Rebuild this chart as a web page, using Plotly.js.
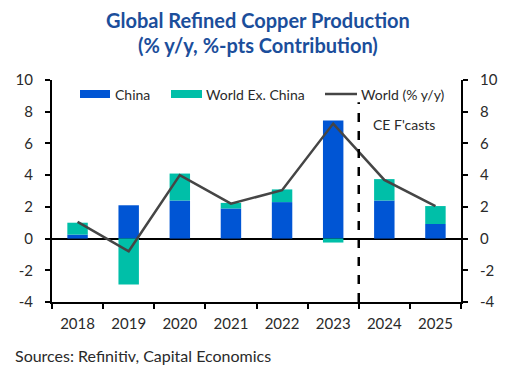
<!DOCTYPE html>
<html>
<head>
<meta charset="utf-8">
<script src="https://cdn.plot.ly/plotly-3.0.1.min.js"></script>
<style>
html,body{margin:0;padding:0;background:#fff;}
#chart{width:517px;height:372px;}
</style>
</head>
<body>
<div id="chart"></div>
<script>
const years = ["2018","2019","2020","2021","2022","2023","2024","2025"];
const china = [0.25, 2.1, 2.4, 1.9, 2.3, 7.45, 2.4, 0.92];
const worldExChina = [0.75, -2.9, 1.7, 0.35, 0.8, -0.25, 1.35, 1.13];
const worldYoY = [1.05, -0.8, 4.0, 2.2, 3.05, 7.25, 3.7, 2.05];
const yTicks = [-4, -2, 0, 2, 4, 6, 8, 10];
const yTickText = ["-4", "-2", "0", "2", "4", "6", "8", "10"];

const blue = "#0055d4";
const teal = "#00bfa8";
const lineCol = "#454545";
const font = "Lato, 'Open Sans', sans-serif";

const traces = [
  {type:"bar", x:years, y:china, name:"China", marker:{color:blue}, width:0.4, hoverinfo:"y"},
  {type:"bar", x:years, y:worldExChina, name:"World Ex. China", marker:{color:teal}, width:0.4, hoverinfo:"y"},
  {type:"scatter", mode:"lines", x:years, y:worldYoY, name:"World (% y/y)", line:{color:lineCol, width:2.5}},
  {type:"scatter", mode:"lines", x:years, y:worldYoY, yaxis:"y2", showlegend:false, hoverinfo:"skip", line:{width:0}, opacity:0}
];

function px2x(p){return (p-52)/409;}
function py2y(p){return (302-p)/222;}

const titleFont = {family:font, size:20, color:"#1b4e9b"};
const tickFont = {family:font, size:15, color:"#2a2a2a"};

const layout = {
  width:517, height:372,
  margin:{l:52, r:56, t:80, b:70},
  paper_bgcolor:"#fff", plot_bgcolor:"#fff",
  barmode:"relative",
  showlegend:false,
  font:{family:font, size:14, color:"#333"},
  xaxis:{type:"category", tickson:"boundaries", ticks:"outside", ticklen:5, tickwidth:2, tickcolor:"#000",
         showline:true, linecolor:"#000", linewidth:2, showgrid:false, zeroline:false,
         tickfont:tickFont, ticklabelstandoff:7, fixedrange:true},
  yaxis:{range:[-4,10], tickmode:"array", tickvals:yTicks, ticktext:yTickText, ticks:"outside", ticklen:5, tickwidth:2, tickcolor:"#000",
         showline:true, linecolor:"#000", linewidth:2, showgrid:false,
         zeroline:true, zerolinecolor:"#000", zerolinewidth:2,
         tickfont:tickFont, ticklabelstandoff:9},
  yaxis2:{range:[-4,10], tickmode:"array", tickvals:yTicks, ticktext:yTickText, overlaying:"y", side:"right", ticks:"outside", ticklen:5, tickwidth:2, tickcolor:"#000",
          showline:true, linecolor:"#000", linewidth:2, showgrid:false, zeroline:false,
          tickfont:tickFont, ticklabelstandoff:9},
  shapes:[
    {type:"line", xref:"x", yref:"y", x0:5.5, x1:5.5, y0:-4, y1:8.6, line:{color:"#000", width:2.5, dash:"dash"}},
    {type:"rect", xref:"paper", yref:"paper", x0:px2x(80), x1:px2x(110), y0:py2y(98), y1:py2y(90), fillcolor:blue, line:{width:0}},
    {type:"rect", xref:"paper", yref:"paper", x0:px2x(171), x1:px2x(202), y0:py2y(98), y1:py2y(90), fillcolor:teal, line:{width:0}},
    {type:"line", xref:"paper", yref:"paper", x0:px2x(325), x1:px2x(357), y0:py2y(94), y1:py2y(94), line:{color:lineCol, width:2.5}}
  ],
  annotations:[
    {xref:"paper", yref:"paper", x:px2x(258), y:py2y(20), xanchor:"center", yanchor:"middle", showarrow:false, text:"<b>Global Refined Copper Production</b>", font:titleFont},
    {xref:"paper", yref:"paper", x:px2x(258), y:py2y(45), xanchor:"center", yanchor:"middle", showarrow:false, text:"<b>(% y/y, %-pts Contribution)</b>", font:titleFont},
    {xref:"paper", yref:"paper", x:px2x(113), y:py2y(94), xanchor:"left", yanchor:"middle", showarrow:false, text:"China", font:{size:14, color:"#2a2a2a"}},
    {xref:"paper", yref:"paper", x:px2x(204), y:py2y(94), xanchor:"left", yanchor:"middle", showarrow:false, text:"World Ex. China", font:{size:14, color:"#2a2a2a"}},
    {xref:"paper", yref:"paper", x:px2x(359), y:py2y(94), xanchor:"left", yanchor:"middle", showarrow:false, text:"World (% y/y)", font:{size:14, color:"#2a2a2a"}},
    {xref:"paper", yref:"paper", x:px2x(371), y:py2y(124), xanchor:"left", yanchor:"middle", showarrow:false, text:"CE F'casts", font:{size:14, color:"#2a2a2a"}},
    {xref:"paper", yref:"paper", x:px2x(13), y:py2y(355), xanchor:"left", yanchor:"middle", showarrow:false, text:"Sources: Refinitiv, Capital Economics", font:{size:16, color:"#2a2a2a"}}
  ]
};

Plotly.newPlot("chart", traces, layout, {displayModeBar:false, staticPlot:true});
</script>
</body>
</html>
